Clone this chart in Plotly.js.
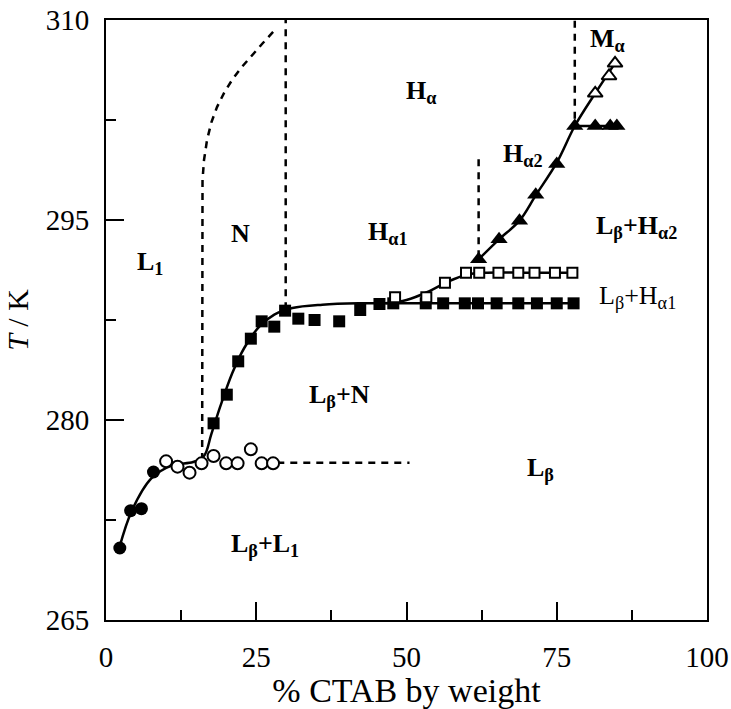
<!DOCTYPE html>
<html>
<head>
<meta charset="utf-8">
<script src="https://cdn.plot.ly/plotly-3.0.1.min.js"></script>
<style>html,body{margin:0;padding:0;background:#fff;}#chart{width:731px;height:709px;}</style>
</head>
<body>
<div id="chart"></div>
<script>
// ---- data ----
const filledCircleX = [2.3, 4.1, 5.9, 7.9];
const filledCircleY = [270.4, 273.2, 273.35, 276.1];

const openCircleX = [10.0, 11.9, 13.9, 15.9, 17.9, 20.0, 21.9, 24.1, 25.9, 27.8];
const openCircleY = [276.9, 276.5, 276.05, 276.75, 277.3, 276.75, 276.75, 277.8, 276.75, 276.75];

const filledSquareX = [17.9, 20.1, 22.0, 24.1, 25.9, 28.0, 29.8, 32.0, 34.7, 38.8, 42.3, 45.5, 47.8, 53.2, 56.1, 59.7, 61.9, 65.0, 68.6, 71.7, 75.0, 77.8];
const filledSquareY = [279.75, 281.9, 284.4, 286.1, 287.4, 287.0, 288.2, 287.6, 287.5, 287.4, 288.25, 288.7, 288.75, 288.75, 288.75, 288.75, 288.75, 288.75, 288.75, 288.75, 288.75, 288.75];

const openSquareX = [48.1, 53.3, 56.4, 59.9, 62.1, 65.3, 68.6, 71.3, 74.7, 77.6];
const openSquareY = [289.2, 289.2, 290.3, 291.05, 291.05, 291.05, 291.05, 291.05, 291.05, 291.05];

const filledTriX = [62.0, 65.4, 68.8, 71.5, 75.0, 78.0, 81.4, 83.9, 85.0];
const filledTriY = [292.05, 293.55, 294.95, 296.9, 299.2, 302.05, 302.05, 302.05, 302.05];

const openTriX = [81.4, 83.7, 84.7];
const openTriY = [304.5, 305.8, 306.75];

// solid boundary curves
const curveLowX = [2.2, 4.3, 7.5, 11, 14.5, 16.3, 17.5, 19, 21, 23, 25.5, 28, 31, 36, 42, 50, 78];
const curveLowY = [270.4, 273.2, 275.6, 276.6, 276.85, 277.3, 278.9, 281.0, 283.5, 285.4, 287.0, 287.9, 288.4, 288.65, 288.75, 288.75, 288.75];
const curveH1X = [46.5, 50, 53.5, 57, 60, 63, 70, 77.6];
const curveH1Y = [288.75, 289.0, 289.6, 290.4, 290.9, 291.05, 291.05, 291.05];
const curveH2X = [62.0, 65.4, 68.8, 71.5, 75.0, 78.0, 81.4, 84.9];
const curveH2Y = [292.05, 293.55, 294.95, 296.85, 299.3, 302.05, 304.5, 306.9];
const tieLineX = [78.0, 85.0];
const tieLineY = [302.05, 302.05];

// dashed boundaries
const dashCurveX = [16.0, 15.97, 16.06, 16.31, 16.81, 17.55, 18.47, 19.63, 20.97, 22.46, 24.13, 25.96, 28.3];
const dashCurveY = [277.0, 296.5, 298.0, 299.5, 301.0, 302.35, 303.47, 304.52, 305.5, 306.4, 307.3, 308.2, 309.35];
const dashN_X = [29.9, 29.9];
const dashN_Y = [288.3, 310];
const dashH2X = [62.0, 62.0];
const dashH2Y = [292.2, 299.7];
const dashMX = [78.0, 78.0];
const dashMY = [302.6, 310];
const dashLbX = [28.5, 50.5];
const dashLbY = [276.8, 276.8];

// phase labels
const labelText = ['L<sub>1</sub>', 'N', 'H<sub>α</sub>', 'H<sub>α1</sub>', 'H<sub>α2</sub>', 'M<sub>α</sub>',
  'L<sub>β</sub>+H<sub>α2</sub>', 'L<sub>β</sub>+H<sub>α1</sub>', 'L<sub>β</sub>+N', 'L<sub>β</sub>', 'L<sub>β</sub>+L<sub>1</sub>'];
const labelX = [7.3, 22.3, 52.4, 46.8, 69.3, 83.5, 88.3, 88.4, 38.8, 72.3, 26.5];
const labelY = [291.8, 294.0, 304.6, 294.0, 299.9, 308.5, 294.5, 289.2, 281.8, 276.3, 270.6];
const labelBold = [true, true, true, true, true, true, true, false, true, true, true];

// ---- chart ----
const FONT = '"Liberation Serif", "Times New Roman", Times, serif';
const solid = (x, y, shape) => ({x, y, mode: 'lines', type: 'scatter', hoverinfo: 'skip',
  line: {color: '#000', width: 2.5, shape: shape || 'spline', smoothing: 1.0}});
const dashed = (x, y) => ({x, y, mode: 'lines', type: 'scatter', hoverinfo: 'skip',
  line: {color: '#000', width: 2.5, dash: '7px,6px', shape: 'linear'}});
const marks = (x, y, symbol, size, fill) => ({x, y, mode: 'markers', type: 'scatter',
  marker: {symbol, size, color: fill, line: {color: '#000', width: fill === '#fff' ? 2 : 0}}});

const traces = [
  dashed(dashCurveX, dashCurveY),
  dashed(dashN_X, dashN_Y),
  dashed(dashH2X, dashH2Y),
  dashed(dashMX, dashMY),
  dashed(dashLbX, dashLbY),
  solid(curveLowX, curveLowY),
  solid(curveH1X, curveH1Y),
  solid(curveH2X, curveH2Y),
  solid(tieLineX, tieLineY, 'linear'),
  marks(filledCircleX, filledCircleY, 'circle', 13, '#000'),
  marks(openCircleX, openCircleY, 'circle', 12, '#fff'),
  marks(filledSquareX, filledSquareY, 'square', 12, '#000'),
  marks(openSquareX, openSquareY, 'square', 10, '#fff'),
  marks(filledTriX, filledTriY, 'triangle-up', 15, '#000'),
  marks(openTriX, openTriY, 'triangle-up', 13, '#fff')
];

const annotations = labelText.map((t, i) => ({
  x: labelX[i], y: labelY[i], xref: 'x', yref: 'y', showarrow: false,
  text: labelBold[i] ? '<b>' + t + '</b>' : t,
  font: {family: FONT, size: 26, color: '#000'}
}));

const axisCommon = {
  showgrid: false, zeroline: false, showline: true, linecolor: '#000', linewidth: 2,
  mirror: true, ticks: 'inside', ticklen: 18, tickwidth: 2, tickcolor: '#000',
  tickfont: {family: FONT, size: 29, color: '#000'}
};

const layout = {
  width: 731, height: 709,
  margin: {l: 106, r: 24, t: 20, b: 89},
  paper_bgcolor: '#fff', plot_bgcolor: '#fff',
  showlegend: false,
  font: {family: FONT, color: '#000'},
  xaxis: Object.assign({}, axisCommon, {
    range: [0, 100], tickvals: [0, 25, 50, 75, 100], ticklabelstandoff: 10,
    minor: {tickvals: [12.5, 37.5, 62.5, 87.5], ticks: 'inside', ticklen: 10, tickwidth: 2, tickcolor: '#000'},
    title: {text: '% CTAB by weight', font: {family: FONT, size: 34, color: '#000'}, standoff: 4}
  }),
  yaxis: Object.assign({}, axisCommon, {
    range: [265, 310], tickvals: [265, 280, 295, 310], ticklabelstandoff: 9,
    minor: {tickvals: [272.5, 287.5, 302.5], ticks: 'inside', ticklen: 10, tickwidth: 2, tickcolor: '#000'},
    title: {text: '<i>T</i> / K', font: {family: FONT, size: 30, color: '#000'}, standoff: 8}
  }),
  annotations
};

Plotly.newPlot('chart', traces, layout, {displayModeBar: false});
</script>
</body>
</html>
